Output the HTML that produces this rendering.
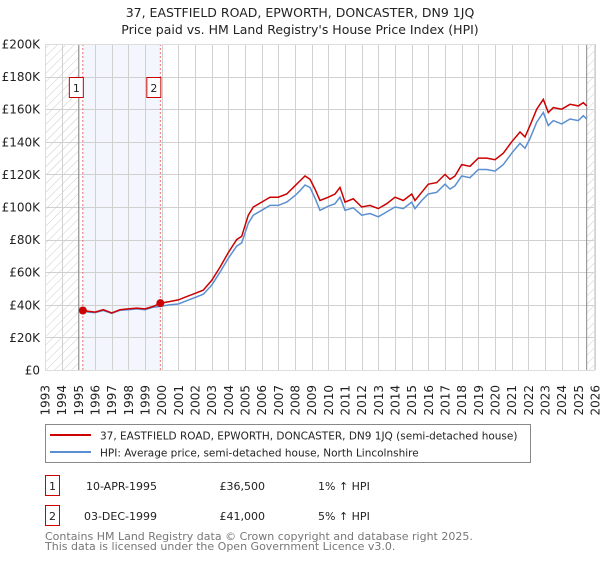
<!DOCTYPE html>
<html><head><meta charset="utf-8">
<style>
body{margin:0;background:#fff;font-family:"DejaVu Sans","Liberation Sans",sans-serif;}
svg text{font-family:"DejaVu Sans","Liberation Sans",sans-serif;}
</style></head>
<body>
<svg id="c" width="600" height="560" xmlns="http://www.w3.org/2000/svg">
<defs>
<pattern id="hatch" width="6" height="6" patternUnits="userSpaceOnUse" patternTransform="rotate(45)">
<line x1="0" y1="0" x2="0" y2="6" stroke="#ccc" stroke-width="1"/>
</pattern>
</defs>
<text x="300" y="17" text-anchor="middle" font-size="12.5" fill="#222">37, EASTFIELD ROAD, EPWORTH, DONCASTER, DN9 1JQ</text>
<text x="300" y="34" text-anchor="middle" font-size="12.5" fill="#222">Price paid vs. HM Land Registry's House Price Index (HPI)</text>
<g id="plot"></g>
<g>
<rect x="45.5" y="424.5" width="485" height="38" fill="#fff" stroke="#888"/>
<line x1="50" y1="435" x2="91" y2="435" stroke="#cc0000" stroke-width="2"/>
<text x="100" y="439.5" font-size="10.5" fill="#222">37, EASTFIELD ROAD, EPWORTH, DONCASTER, DN9 1JQ (semi-detached house)</text>
<line x1="50" y1="452" x2="91" y2="452" stroke="#5b8fd1" stroke-width="2"/>
<text x="100" y="456.5" font-size="10.5" fill="#222">HPI: Average price, semi-detached house, North Lincolnshire</text>
</g>
<g>
<rect x="45.5" y="475.5" width="14" height="20" fill="#fff" stroke="#cc0000"/>
<text x="52.5" y="490" text-anchor="middle" font-size="11" fill="#222">1</text>
<text x="157" y="490" text-anchor="end" font-size="11" fill="#222">10-APR-1995</text>
<text x="265" y="490" text-anchor="end" font-size="11" fill="#222">£36,500</text>
<text x="318" y="490" font-size="11" fill="#222">1% ↑ HPI</text>
<rect x="45.5" y="505.5" width="14" height="20" fill="#fff" stroke="#cc0000"/>
<text x="52.5" y="520" text-anchor="middle" font-size="11" fill="#222">2</text>
<text x="157" y="520" text-anchor="end" font-size="11" fill="#222">03-DEC-1999</text>
<text x="265" y="520" text-anchor="end" font-size="11" fill="#222">£41,000</text>
<text x="318" y="520" font-size="11" fill="#222">5% ↑ HPI</text>
</g>
<text x="45" y="540" font-size="11" fill="#777">Contains HM Land Registry data © Crown copyright and database right 2025.</text>
<text x="45" y="550" font-size="11" fill="#777">This data is licensed under the Open Government Licence v3.0.</text>
</svg>
<script>
const yTicks=[0,20000,40000,60000,80000,100000,120000,140000,160000,180000,200000];
const yTickLabels=["£0","£20K","£40K","£60K","£80K","£100K","£120K","£140K","£160K","£180K","£200K"];
const xYears=[1993,1994,1995,1996,1997,1998,1999,2000,2001,2002,2003,2004,2005,2006,2007,2008,2009,2010,2011,2012,2013,2014,2015,2016,2017,2018,2019,2020,2021,2022,2023,2024,2025,2026];
const seriesTimes=[1995.3,1995.6,1996,1996.5,1997,1997.5,1998,1998.5,1999,1999.5,1999.92,2000.5,2001,2001.5,2002,2002.5,2003,2003.5,2004,2004.5,2004.8,2005.2,2005.5,2006,2006.5,2007,2007.5,2008,2008.3,2008.6,2008.9,2009.2,2009.5,2010,2010.4,2010.7,2011,2011.5,2012,2012.5,2013,2013.5,2014,2014.5,2015,2015.2,2015.6,2016,2016.5,2017,2017.3,2017.6,2018,2018.5,2019,2019.5,2020,2020.5,2021,2021.5,2021.8,2022.1,2022.5,2022.9,2023.2,2023.5,2024,2024.5,2025,2025.3,2025.5];
const propertyValues=[36500,36000,35500,37000,35000,37000,37500,38000,37500,39000,41000,42000,43000,45000,47000,49000,55000,63000,72000,80000,82000,95000,100000,103000,106000,106000,108000,113000,116000,119000,117000,111000,104000,106000,108000,112000,103000,105000,100000,101000,99000,102000,106000,104000,108000,104000,109000,114000,115000,120000,117000,119000,126000,125000,130000,130000,129000,133000,140000,146000,143000,150000,160000,166000,158000,161000,160000,163000,162000,164000,162000];
const hpiValues=[36000,35500,35200,36500,34800,36600,37000,37500,37000,38500,39000,40000,40500,42500,44500,46500,52000,60000,68500,76000,78000,90000,95000,98000,101000,101000,103000,107000,110000,113500,112000,105500,98000,100500,102000,106000,98000,99500,95000,96000,94000,97000,100000,99000,103000,99000,104000,108000,109000,114000,111000,113000,119000,118000,123000,123000,122000,126000,133000,139000,136000,142000,152000,158000,150000,153000,151000,154000,153000,156000,154000];
const sales=[{t:1995.27,v:36500,n:"1"},{t:1999.92,v:41000,n:"2"}];
const NS="http://www.w3.org/2000/svg";
const L=45,R=595,T=44,B=370,X0=1993,X1=2026,YMAX=200000;
function xs(t){return L+(t-X0)/(X1-X0)*(R-L);}
function ys(v){return B-v/YMAX*(B-T);}
const g=document.getElementById('plot');
function mk(tag,attrs,parent){const e=document.createElementNS(NS,tag);for(const k in attrs)e.setAttribute(k,attrs[k]);(parent||g).appendChild(e);return e;}
let e;
e=mk('rect',{x:L,y:T,width:R-L,height:B-T,fill:'#fff'});


e=mk('rect',{x:xs(1993),y:T,width:xs(1995)-xs(1993),height:B-T,fill:'url(#hatch)'});


e=mk('rect',{x:xs(2025.5),y:T,width:R-xs(2025.5),height:B-T,fill:'url(#hatch)'});


e=mk('rect',{x:xs(sales[0].t),y:T,width:xs(sales[1].t)-xs(sales[0].t),height:B-T,fill:'#eef3fc',opacity:0.7});


xYears.forEach(yr=>{
 const x=Math.round(xs(yr))+0.5;
 e=mk('line',{x1:x,y1:T,x2:x,y2:B,stroke:'#d0d0d0','stroke-width':1});
 
 
 e=mk('text',{x:0,y:0,transform:`translate(${xs(yr)+4.5},385) rotate(-90)`,'text-anchor':'end','font-size':12,fill:'#222'});
 e.textContent=yr;
 
 
});
yTicks.forEach((v,i)=>{
 const y=Math.round(ys(v))+0.5;
 e=mk('line',{x1:L,y1:y,x2:R,y2:y,stroke:'#d0d0d0','stroke-width':1});
 
 
 e=mk('text',{x:40,y:ys(v)+4.5,'text-anchor':'end','font-size':12,fill:'#222'});
 e.textContent=yTickLabels[i];
 
 
});
e=mk('line',{x1:xs(1995)+0.5,y1:T,x2:xs(1995)+0.5,y2:B,stroke:'#888'});


e=mk('line',{x1:xs(2025.5),y1:T,x2:xs(2025.5),y2:B,stroke:'#888'});


function path(vals){return vals.map((v,i)=>(i?'L':'M')+xs(seriesTimes[i]).toFixed(1)+','+ys(v).toFixed(1)).join('');}
e=mk('path',{d:path(hpiValues),fill:'none',stroke:'#5b8fd1','stroke-width':1.5});


e=mk('path',{d:path(propertyValues),fill:'none',stroke:'#cc0000','stroke-width':1.5});


sales.forEach(s=>{
 e=mk('line',{x1:xs(s.t),y1:T,x2:xs(s.t),y2:B,stroke:'#f07070','stroke-dasharray':'2,2'});
 
 
 e=mk('circle',{cx:xs(s.t),cy:ys(s.v),r:4,fill:'#cc0000'});
 
 
 e=mk('rect',{x:xs(s.t)-13.5,y:77.5,width:14,height:20,fill:'#fff',stroke:'#cc0000'});
 
 
 e=mk('text',{x:xs(s.t)-6.5,y:92,'text-anchor':'middle','font-size':11,fill:'#222'});
 e.textContent=s.n;
 
 
});
e=mk('rect',{x:L+0.5,y:T+0.5,width:R-L-1,height:B-T,fill:'none',stroke:'#ddd'});


</script>
</body></html>
